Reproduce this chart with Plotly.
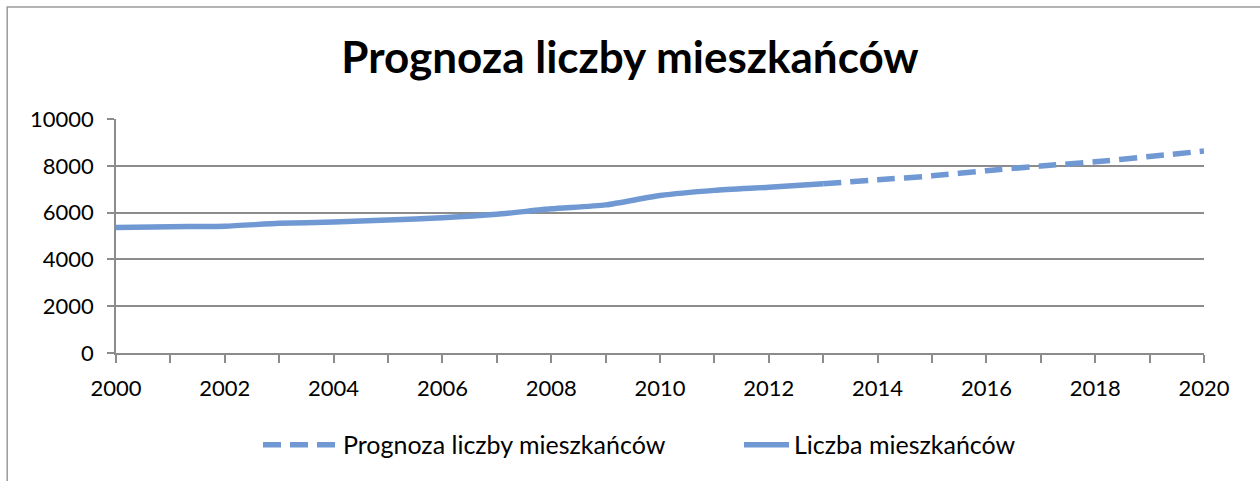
import plotly.graph_objects as go

# Data
years_actual = [2000, 2001, 2002, 2003, 2004, 2005, 2006, 2007, 2008, 2009, 2010, 2011, 2012, 2013]
population_actual = [5360, 5400, 5420, 5540, 5600, 5680, 5780, 5930, 6160, 6330, 6730, 6950, 7080, 7230]
years_forecast = [2013, 2014, 2015, 2016, 2017, 2018, 2019, 2020]
population_forecast = [7230, 7400, 7570, 7790, 7990, 8170, 8400, 8630]

title_text = "Prognoza liczby mieszkańców"
name_forecast = "Prognoza liczby mieszkańców"
name_actual = "Liczba mieszkańców"

x_tickvals = [2000, 2002, 2004, 2006, 2008, 2010, 2012, 2014, 2016, 2018, 2020]
y_tickvals = [0, 2000, 4000, 6000, 8000, 10000]

line_color = "#7099D4"
grid_color = "#8C8C8C"
font_family = "Lato, 'Open Sans', sans-serif"

fig = go.Figure()
fig.add_trace(go.Scatter(
    x=years_forecast, y=population_forecast, name=name_forecast, mode="lines",
    line=dict(color=line_color, width=5.5, dash="18px,9px", shape="spline", smoothing=0.6),
    legend="legend",
))
fig.add_trace(go.Scatter(
    x=years_actual, y=population_actual, name=name_actual, mode="lines",
    line=dict(color=line_color, width=5.5, shape="spline", smoothing=0.6),
    legend="legend2",
))

fig.update_layout(
    width=1260, height=481,
    margin=dict(l=116, r=56, t=119, b=128),
    paper_bgcolor="white", plot_bgcolor="white",
    font=dict(family=font_family, color="black", size=22),
    title=dict(text="<b>" + title_text + "</b>", x=0.5, xanchor="center",
               y=1 - 58 / 481, yanchor="middle",
               font=dict(family=font_family, size=44, color="black")),
    showlegend=True,
    legend=dict(orientation="h", x=(258 - 116) / 1088, xanchor="left", y=-0.393, yanchor="middle",
                font=dict(family=font_family, size=25), itemwidth=75,
                bgcolor="rgba(0,0,0,0)"),
    legend2=dict(orientation="h", x=(739 - 116) / 1088, xanchor="left", y=-0.393, yanchor="middle",
                 font=dict(family=font_family, size=25), itemwidth=45,
                 bgcolor="rgba(0,0,0,0)"),
    shapes=[dict(type="rect", xref="paper", yref="paper",
                 x0=-0.1, x1=1.06, y0=-0.58, y1=1.479,
                 line=dict(color="#9A9A9A", width=1.5), fillcolor="rgba(0,0,0,0)", layer="below")],
)

fig.update_xaxes(
    range=[2000, 2020], tickmode="array", tickvals=x_tickvals,
    ticktext=[str(v) for v in x_tickvals],
    showgrid=False, zeroline=False,
    showline=True, linecolor=grid_color, linewidth=1.5,
    ticks="outside", ticklen=8, tickcolor=grid_color, tickwidth=1.5,
    minor=dict(dtick=1, tick0=2000, ticks="outside", ticklen=8, tickcolor=grid_color, tickwidth=1.5, showgrid=False),
    tickfont=dict(size=22, family=font_family),
    ticklabelstandoff=7,
)
fig.update_yaxes(
    range=[0, 10000], tickmode="array", tickvals=y_tickvals,
    ticktext=[str(v) for v in y_tickvals],
    showgrid=True, gridcolor=grid_color, gridwidth=1.5, zeroline=False,
    showline=True, linecolor=grid_color, linewidth=1.5,
    ticks="outside", ticklen=7, tickcolor=grid_color, tickwidth=1.5,
    tickfont=dict(size=22, family=font_family),
    ticklabelstandoff=9,
)

fig.write_html("out.html", config={"displayModeBar": False},
               post_script="document.body.style.margin='0';document.body.style.overflow='hidden';")
